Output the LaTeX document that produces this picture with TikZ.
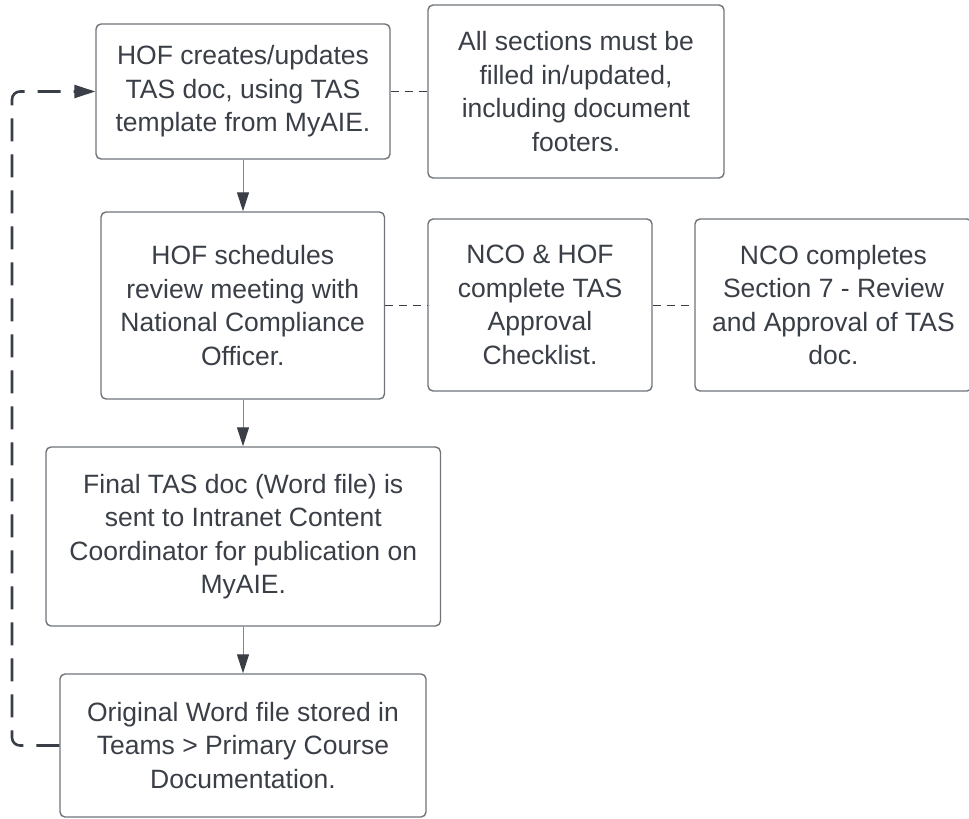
\documentclass[tikz,border=0pt]{standalone}
\usepackage{fontspec}
\setmainfont{Liberation Sans}
\usetikzlibrary{arrows.meta}

\definecolor{inkdark}{RGB}{58,62,70}
\definecolor{edgegray}{RGB}{112,116,122}
\definecolor{linkgray}{RGB}{130,133,138}

\tikzset{
  stepbox/.style={draw=edgegray, line width=1.4pt, rounded corners=5pt,
    fill=white, inner sep=0pt, align=center, text=inkdark,
    font=\fontsize{26.5}{33.5}\selectfont},
  flow/.style={draw=linkgray, line width=1pt,
    -{Triangle[width=12pt,length=19pt,fill=inkdark,color=inkdark]}},
  note/.style={draw=inkdark, line width=1pt, dash pattern=on 8pt off 6pt},
  loopback/.style={draw=inkdark, line width=2.6pt, rounded corners=8pt,
    dash pattern=on 23pt off 13pt,
    -{Triangle[width=13pt,length=21pt,fill=inkdark,color=inkdark]}}
}

\begin{document}
\begin{tikzpicture}[x=1pt,y=-1pt]
  \useasboundingbox (0,0) rectangle (969,819);

  % process steps
  \node[stepbox, minimum width=294pt, minimum height=135pt] (b1) at (243,91.5)
    {HOF creates/updates\\TAS doc, using TAS\\template from MyAIE.};
  \node[stepbox, minimum width=296pt, minimum height=173pt] (b2) at (576,91.5)
    {All sections must be\\filled in/updated,\\including document\\footers.};
  \node[stepbox, minimum width=283.5pt, minimum height=187pt] (b3) at (242.75,305.5)
    {HOF schedules\\review meeting with\\National Compliance\\Officer.};
  \node[stepbox, minimum width=224pt, minimum height=172pt] (b4) at (540,305)
    {NCO \& HOF\\complete TAS\\Approval\\Checklist.};
  \node[stepbox, minimum width=277pt, minimum height=172pt] (b5) at (833.5,305)
    {NCO completes\\Section 7 - Review\\and Approval of TAS\\doc.};
  \node[stepbox, minimum width=394.5pt, minimum height=179pt] (b6) at (243.25,536.5)
    {Final TAS doc (Word file) is\\sent to Intranet Content\\Coordinator for publication on\\MyAIE.};
  \node[stepbox, minimum width=366pt, minimum height=143pt] (b7) at (243,745.5)
    {Original Word file stored in\\Teams > Primary Course\\Documentation.};

  % main flow
  \draw[flow] (b1.south) -- (b1.south |- b3.north);
  \draw[flow] (b1.south |- b3.south) -- (b1.south |- b6.north);
  \draw[flow] (b1.south |- b6.south) -- (b1.south |- b7.north);

  % side notes
  \draw[note] (b1.east) -- (b2.west);
  \draw[note] (b3.east |- b4.west) -- (b4.west);
  \draw[note] (b4.east) -- (b5.west);

  % return path to the first step
  \coordinate (loopcorner) at (12,745.5);
  \draw[loopback] (b7.west) -- (loopcorner) |- (b1.west);
\end{tikzpicture}
\end{document}
